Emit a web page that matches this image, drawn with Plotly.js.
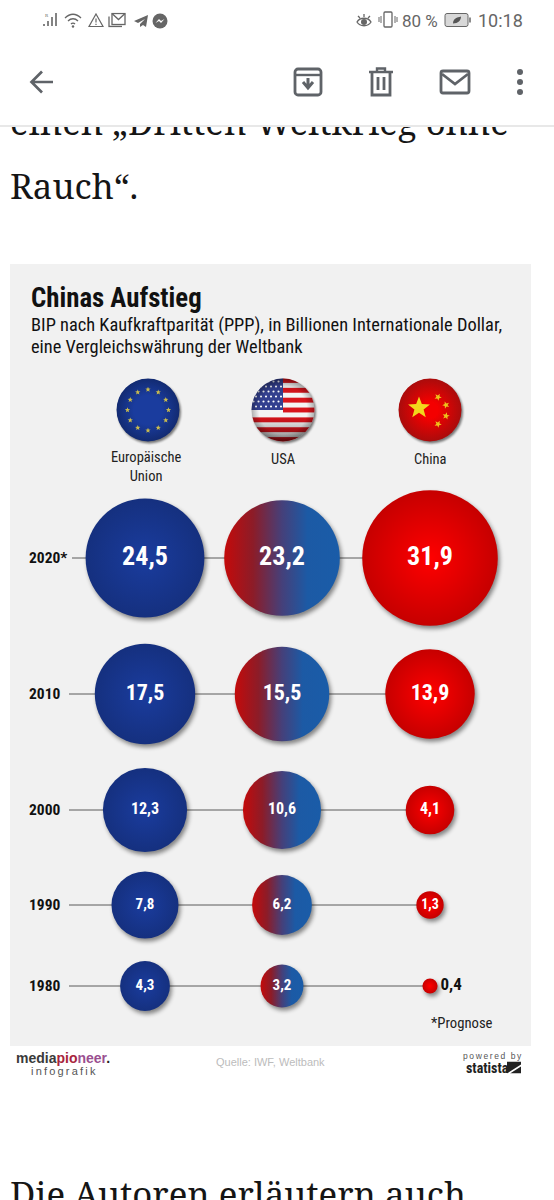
<!DOCTYPE html>
<html><head><meta charset="utf-8">
<script src="https://cdn.plot.ly/plotly-3.0.1.min.js"></script>
<style>
html,body{margin:0;padding:0;background:#fff;overflow:hidden}
#g{width:554px;height:1200px}
.scatterlayer .points path{filter:drop-shadow(2px 3px 2px rgba(0,0,0,.45))}
text[data-unformatted="infografik"]{letter-spacing:2.2px}
text[data-unformatted="powered by"]{letter-spacing:1.6px}
</style></head><body><div id="g"></div>
<script>
// ---- data ----
const years = ["1980","1990","2000","2010","2020*"];
const eu    = [4.3, 7.8, 12.3, 17.5, 24.5];
const usa   = [3.2, 6.2, 10.6, 15.5, 23.2];
const china = [0.4, 1.3, 4.1, 13.9, 31.9];
const countries = ["Europäische<br>Union","USA","China"];
// ---- layout constants (pixels on the page) ----
const rowY = [986, 905, 810, 694, 558];
const colX = [145, 282, 430];
const lineStart = [69, 69, 69, 69, 72];
const labelSize = [15, 15, 16, 22, 26];
const cond = '"Liberation Sans Narrow","Roboto Condensed",Roboto,sans-serif';
const fmt = v => String(v).replace('.',',');

function lineTrace(i){return {type:'scatter',mode:'lines',x:[lineStart[i],colX[2]],y:[rowY[i],rowY[i]],
  line:{color:'#5a5a5a',width:1},hoverinfo:'skip',showlegend:false};}
function bubble(vals,col,color,grad,type){
  return {type:'scatter',mode:'markers+text',x:vals.map(()=>col),y:rowY,text:vals.map(fmt),
    textposition:vals.map(v=>v<1?'middle right':'middle center'),
    textfont:{family:cond,weight:700,size:vals.map((v,i)=>v<1?17:(v<2?14:labelSize[i])),color:vals.map(v=>v<1?'#111':'#fff')},
    marker:{size:vals,sizemode:'area',sizeref:1/288,opacity:1,color:color,line:{width:0},gradient:{type:type,color:grad}},
    hoverinfo:'skip',showlegend:false,cliponaxis:false};
}
function articleText(t,y){return {type:'scatter',mode:'text',x:[10],y:[y],yaxis:'y2',text:[t],textposition:'middle right',
  textfont:{family:'"Noto Serif","DejaVu Serif","Liberation Serif",serif',size:34.8,color:'#151515'},hoverinfo:'skip',showlegend:false,cliponaxis:true};}

const traces = [
  articleText('einen „Dritten Weltkrieg ohne',126),
  articleText('Rauch“.',190),
  articleText('Die Autoren erläutern auch',1198),
  ...years.map((_,i)=>lineTrace(i)),
  bubble(eu,colX[0],'#15307f','#1a3c9e','radial'),
  bubble(usa,colX[1],'#c40a0a','#1a5ca8','horizontal'),
  bubble(china,colX[2],'#c60000','#ff0000','radial'),
];

// ---- flag and icon images ----
function uri(s){return 'data:image/svg+xml;charset=utf-8,'+encodeURIComponent(s);}
function star(cx,cy,r,rot){let p=[];for(let k=0;k<10;k++){const a=(rot||0)+k*Math.PI/5-Math.PI/2,q=k%2?r*.42:r;p.push((cx+q*Math.cos(a)).toFixed(2)+','+(cy+q*Math.sin(a)).toFixed(2));}return p.join(' ');}
function flagWrap(body,defs){return `<svg xmlns="http://www.w3.org/2000/svg" width="320" height="320" viewBox="-40 -40 80 80">
<defs><filter id="s" x="-30%" y="-30%" width="160%" height="160%"><feGaussianBlur stdDeviation="1.3"/></filter>
<clipPath id="c"><circle r="31.5"/></clipPath>${defs||''}</defs>
<circle cx="1.5" cy="2" r="31.5" fill="#000" opacity=".5" filter="url(#s)"/><g clip-path="url(#c)">${body}</g></svg>`;}
let euStars='';for(let k=0;k<12;k++){const a=k*Math.PI/6;euStars+=`<polygon fill="#c9bb4e" points="${star(20.5*Math.cos(a),20.5*Math.sin(a),2.8)}"/>`;}
const euFlag=flagWrap(`<circle r="32" fill="url(#e)"/>${euStars}`,`<radialGradient id="e"><stop offset=".45" stop-color="#1a3c9e"/><stop offset="1" stop-color="#122a70"/></radialGradient>`);
let stripes='<rect x="-32" y="-32" width="64" height="64" fill="#f4f4f4"/>';
for(let k=0;k<7;k++){stripes+=`<rect x="${k<4?0:-32}" y="${-32+k*9.85}" width="${k<4?32:64}" height="4.9" fill="#d8141c"/>`;}
let cant='<rect x="-32" y="-32" width="32" height="32" fill="#33408f"/>';
for(let r=0;r<6;r++)for(let c=0;c<6;c++){cant+=`<circle cx="${-29.5+c*5+(r%2?2.5:0)}" cy="${-28.5+r*5}" r="1.05" fill="#fff"/>`;}
const usFlag=flagWrap(stripes+cant+`<rect x="-32" y="-32" width="64" height="64" fill="url(#u)"/><circle r="32" fill="url(#v)"/>`,
 `<linearGradient id="u" x1="0" y1="0" x2="0" y2="1"><stop offset="0" stop-color="#000" stop-opacity=".2"/><stop offset=".25" stop-color="#000" stop-opacity="0"/><stop offset=".6" stop-color="#000" stop-opacity="0"/><stop offset="1" stop-color="#000" stop-opacity=".45"/></linearGradient>
 <radialGradient id="v"><stop offset=".75" stop-color="#000" stop-opacity="0"/><stop offset="1" stop-color="#000" stop-opacity=".3"/></radialGradient>`);
const cnFlag=flagWrap(`<circle r="32" fill="url(#r)"/><polygon fill="#f2d81c" points="${star(-11,-2,11.5)}"/>
<polygon fill="#eec21c" points="${star(8,-13,3.8,.5)}"/><polygon fill="#eec21c" points="${star(16,-5,3.8,.9)}"/>
<polygon fill="#eec21c" points="${star(16,6,3.8,.2)}"/><polygon fill="#eec21c" points="${star(8,14,3.8,.5)}"/>`,
 `<radialGradient id="r"><stop offset=".25" stop-color="#f40000"/><stop offset="1" stop-color="#a80c0c"/></radialGradient>`);

const G='#5f6368', S='#666666';
function icon(w,h,body){return uri(`<svg xmlns="http://www.w3.org/2000/svg" width="${w*4}" height="${h*4}" viewBox="0 0 ${w} ${h}">${body}</svg>`);}
const icons=[
 [42,82,28,28,`<path d="M25 14H4M14 3.5 3.500 14 14 24.500" fill="none" stroke="${G}" stroke-width="2.700"/>`],
 [308,82,30,30,`<rect x="2" y="2" width="26" height="26" rx="3" fill="none" stroke="${G}" stroke-width="2.800"/><path d="M2 8H28" stroke="${G}" stroke-width="2.400"/><path d="M15 11v8M10 15l5 6 5-6" fill="none" stroke="${G}" stroke-width="3"/>`],
 [381,82,26,30,`<path d="M1 5H25M9 4V1.500H17V4" fill="none" stroke="${G}" stroke-width="2.400"/><path d="M4 6V28H22V6M10 10V23M16 10V23" fill="none" stroke="${G}" stroke-width="2.800"/>`],
 [455,82,32,26,`<rect x="2" y="2" width="28" height="22" rx="2" fill="none" stroke="${G}" stroke-width="2.800"/><path d="M3 5 16 15 29 5" fill="none" stroke="${G}" stroke-width="2.800"/>`],
 [520,82,10,28,`<circle cx="5" cy="4" r="3" fill="${G}"/><circle cx="5" cy="14" r="3" fill="${G}"/><circle cx="5" cy="24" r="3" fill="${G}"/>`],
 [50,19,16,16,`<path d="M2 15V13M6 15V10M10 15V6M14 15V2" stroke="${S}" stroke-width="1.600"/><text x="3" y="6" font-size="5" fill="${S}">R</text>`],
 [73,20,18,16,`<path d="M1 6C6 1 12 1 17 6M4 9C7 6 11 6 14 9M7 12C8 11 10 11 11 12" fill="none" stroke="${S}" stroke-width="1.300"/><circle cx="9" cy="14.500" r="1.200" fill="${S}"/>`],
 [96,20,16,15,`<path d="M8 1.500 15 14H1ZM8 6V10M8 11.200V12.500" fill="none" stroke="${S}" stroke-width="1.200"/>`],
 [117,20,18,15,`<rect x="4" y="1" width="13" height="11" fill="none" stroke="${S}" stroke-width="1.300"/><path d="M1 4V14H14M4 1l6.500 6L17 1" fill="none" stroke="${S}" stroke-width="1.300"/>`],
 [141,21,16,14,`<path d="M15 1 1 7l4 2 7-4-5 5v3l3-2 3 2Z" fill="${S}"/>`],
 [160,21,16,16,`<circle cx="8" cy="8" r="7.500" fill="${S}"/><path d="M3.500 10 7 6l2 2 3.500-2L9 10 7 8Z" fill="#fff"/>`],
 [364,21,18,16,`<path d="M2 9C5 4 13 4 16 9 13 14 5 14 2 9ZM3 3l2 2M15 3l-2 2M9 1V4" fill="none" stroke="${S}" stroke-width="1.300"/><circle cx="9" cy="9" r="3" fill="${S}"/>`],
 [388,20,20,18,`<rect x="6" y="1" width="8" height="15" rx="1" fill="none" stroke="${S}" stroke-width="1.300"/><path d="M3 5V12M17 5V12M1 6V11M19 6V11" stroke="${S}" stroke-width="1"/>`],
 [458,20,28,15,`<rect x="1" y="1" width="23" height="13" rx="2" fill="#d8d8d8" stroke="${S}" stroke-width="1"/><path d="M26 5V10" stroke="${S}" stroke-width="1.500"/><path d="M9 11C9 6 13 5 17 4 17 8 14 11 9 11Z" fill="#555"/>`],
 [514,1067.5,14,12,`<path d="M0 0H14V3L0 12ZM14 5V12H3Z" fill="#222"/>`],
];
const imgs=[];
function place(src,cx,cy,w,h){imgs.push({source:src,xref:'x',yref:'y',x:cx-w/2,y:cy-h/2,sizex:w,sizey:h,xanchor:'left',yanchor:'top',sizing:'stretch',layer:'above'});}
place(uri(euFlag),148,410,80,80);place(uri(usFlag),283,410,80,80);place(uri(cnFlag),430,410,80,80);
icons.forEach(a=>place(icon(a[2],a[3],a[4]),a[0],a[1],a[2],a[3]));

// ---- text ----
function ann(text,x,y,size,o){o=o||{};return {text:text,x:x,y:y,xref:'x',yref:'y',showarrow:false,xanchor:o.a||'left',yanchor:'middle',align:o.al||'left',
  font:{family:o.f||cond,size:size,color:o.c||'#111',weight:o.w||400},borderpad:0,borderwidth:0,captureevents:false};}
const annotations=[
 ann('Chinas Aufstieg',31,298,26.8,{w:700}),
 ann('BIP nach Kaufkraftparität (PPP), in Billionen Internationale Dollar,',31,325,18.4),
 ann('eine Vergleichswährung der Weltbank',31,346,18.4),
 ann(countries[0],146,467,14.5,{a:'center',al:'center',c:'#222'}),
 ann(countries[1],283,459,14.5,{a:'center',c:'#222'}),
 ann(countries[2],430,459,14.5,{a:'center',c:'#222'}),
 ...years.map((y,i)=>ann(y,29,rowY[i],15.5,{w:700})),
 ann('*Prognose',431,1023,14.7,{c:'#222'}),
 ann('<span style="color:#3a3a3a">media</span><span style="color:#a8243c">pio</span><span style="color:#9a4f90">neer</span><span style="color:#222">.</span>',16,1058,14,{f:'"Liberation Sans",sans-serif',w:700}),
 ann('infografik',31,1071,11,{f:'"Liberation Sans",sans-serif',c:'#555'}),
 ann('Quelle: IWF, Weltbank',270,1062,11,{a:'center',f:'"Liberation Sans",sans-serif',c:'#bcbcbc'}),
 ann('powered by',463,1056,8.5,{f:'"Liberation Sans",sans-serif',c:'#555'}),
 ann('statista',466,1068,14,{w:700,c:'#222'}),
 ann('80 %',402,21,17,{f:'Roboto,sans-serif',c:S}),
 ann('10:18',478,20,18,{f:'Roboto,sans-serif',c:S}),
];
const shapes=[
 {type:'rect',xref:'x',yref:'y',x0:10,x1:531,y0:264,y1:1046,fillcolor:'#f1f1f1',line:{width:0},layer:'below'},
 {type:'rect',xref:'x',yref:'y',x0:0,x1:554,y0:125,y1:127,fillcolor:'#e8e8e8',line:{width:0},layer:'above'},
];
Plotly.newPlot('g',traces,{
  width:554,height:1200,margin:{l:0,r:0,t:0,b:0},paper_bgcolor:'#fff',plot_bgcolor:'rgba(0,0,0,0)',showlegend:false,
  xaxis:{range:[0,554],visible:false,fixedrange:true},
  yaxis:{range:[1200,0],visible:false,fixedrange:true},
  yaxis2:{domain:[0,1075/1200],range:[1200,125],visible:false,fixedrange:true,anchor:'x'},
  shapes:shapes,images:imgs,annotations:annotations
},{displayModeBar:false,staticPlot:true}).then(()=>{
  // USA bubbles: the reference blend stays red at the left and is already blue at two thirds
  const mid=[[.25,'#8c1c28'],[.5,'#45407a'],[.72,'#1c5aa5']];
  document.querySelectorAll('#g linearGradient').forEach(g=>{
    const st=[...g.querySelectorAll('stop')]; if(st.length<2) return;
    const first=st[0].getAttribute('stop-color')||'';
    const redFirst=/196|c40a0a/i.test(first);
    mid.forEach(m=>{const s=document.createElementNS('http://www.w3.org/2000/svg','stop');
      const off=redFirst?m[0]:1-m[0];
      s.setAttribute('offset',off);s.setAttribute('stop-color',m[1]);
      g.insertBefore(s,st[1]);});
    if(!redFirst){const ss=[...g.querySelectorAll('stop')];ss.slice(1,4).reverse().forEach(x=>g.insertBefore(x,ss[4]));}
  });
});
</script></body></html>
